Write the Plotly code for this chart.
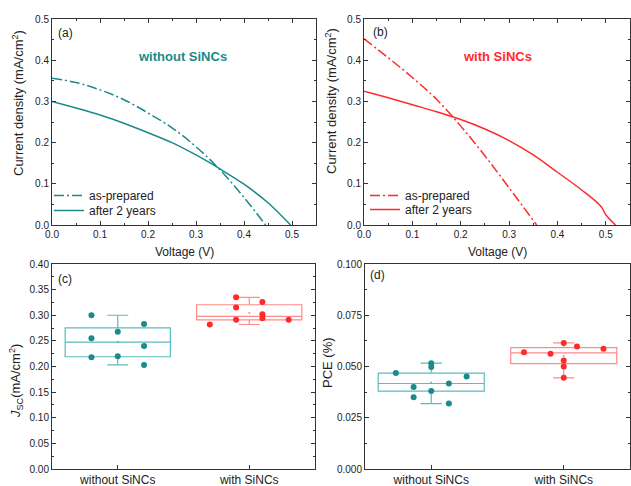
import numpy as np
import plotly.graph_objects as go

W, H = 631, 486

# ---------------- data ----------------
# (a) without SiNCs
a_prep_v = [0, 0.05, 0.1, 0.15, 0.2, 0.25, 0.3, 0.35, 0.4, 0.445]
a_prep_j = [0.356, 0.346, 0.328, 0.304, 0.272, 0.236, 0.19, 0.134, 0.067, 0.0]
a_aged_v = [0, 0.05, 0.1, 0.15, 0.2, 0.25, 0.3, 0.35, 0.4, 0.45, 0.497]
a_aged_j = [0.300, 0.284, 0.267, 0.247, 0.224, 0.200, 0.170, 0.136, 0.099, 0.054, 0.0]
# (b) with SiNCs
b_prep_v = [0, 0.05, 0.1, 0.15, 0.2, 0.25, 0.3, 0.357]
b_prep_j = [0.452, 0.406, 0.358, 0.305, 0.240, 0.168, 0.090, 0.0]
b_aged_v = [0, 0.05, 0.1, 0.15, 0.2, 0.25, 0.3, 0.35, 0.4, 0.45, 0.49, 0.5, 0.52]
b_aged_j = [0.325, 0.309, 0.292, 0.275, 0.256, 0.233, 0.205, 0.170, 0.128, 0.085, 0.045, 0.025, 0.0]

categories = ["without SiNCs", "with SiNCs"]
# (c) Jsc
jsc_without = [0.300, 0.255, 0.218, 0.268, 0.220, 0.283, 0.240, 0.203]
jsc_with = [0.282, 0.335, 0.315, 0.291, 0.326, 0.302, 0.294, 0.291]
# (d) PCE
pce_without = [0.0468, 0.0400, 0.0350, 0.0516, 0.0497, 0.0380, 0.0417, 0.0319, 0.0451]
pce_with = [0.0570, 0.0562, 0.0615, 0.0529, 0.0500, 0.0445, 0.0597, 0.0587]

# horizontal spread of the data points inside each category (category units)
jsc_without_off = [-0.2, -0.2, -0.2, 0, 0, 0.2, 0.2, 0.2]
jsc_with_off = [-0.3, -0.1, -0.1, -0.1, 0.1, 0.1, 0.1, 0.3]
pce_without_off = [-0.267, -0.133, -0.133, 0, 0, 0, 0.133, 0.133, 0.267]
pce_with_off = [-0.3, -0.1, 0, 0, 0, 0, 0.1, 0.3]

TEAL = "#1a8a8a"
TEAL_BOX = "#5cbcbc"
RED = "#ff2a2a"
RED_BOX = "#ff8a8a"
AX = "#333333"
FONT = "Liberation Sans, Arial, sans-serif"
DASHDOT = "10px,3px,2px,3px"

fig = go.Figure()

# ---- panel (a)
fig.add_trace(go.Scatter(x=a_prep_v, y=a_prep_j, mode="lines", name="as-prepared",
                         line=dict(color=TEAL, width=1.5, dash=DASHDOT, shape="spline"),
                         xaxis="x", yaxis="y", legend="legend"))
fig.add_trace(go.Scatter(x=a_aged_v, y=a_aged_j, mode="lines", name="after 2 years",
                         line=dict(color=TEAL, width=1.5, shape="spline"),
                         xaxis="x", yaxis="y", legend="legend2"))
# ---- panel (b)
fig.add_trace(go.Scatter(x=b_prep_v, y=b_prep_j, mode="lines", name="as-prepared",
                         line=dict(color=RED, width=1.5, dash=DASHDOT, shape="spline"),
                         xaxis="x2", yaxis="y2", legend="legend3"))
fig.add_trace(go.Scatter(x=b_aged_v, y=b_aged_j, mode="lines", name="after 2 years",
                         line=dict(color=RED, width=1.5, shape="spline"),
                         xaxis="x2", yaxis="y2", legend="legend4"))


def add_box(vals, offs, pos, color_box, color_pt, xa, ya):
    fig.add_trace(go.Box(y=vals, x0=pos, width=0.8, whiskerwidth=0.2,
                         boxpoints=False, quartilemethod="inclusive",
                         line=dict(color=color_box, width=1.2),
                         fillcolor="rgba(255,255,255,0)",
                         xaxis=xa, yaxis=ya, showlegend=False, hoverinfo="y"))
    fig.add_trace(go.Scatter(x=[pos + o for o in offs], y=vals, mode="markers",
                             marker=dict(color=color_pt, size=6, symbol="circle"),
                             xaxis=xa, yaxis=ya, showlegend=False))
    fig.add_trace(go.Scatter(x=[pos], y=[float(np.mean(vals))], mode="markers",
                             marker=dict(color=color_box, size=2),
                             xaxis=xa, yaxis=ya, showlegend=False))


add_box(jsc_without, jsc_without_off, 0, TEAL_BOX, TEAL, "x3", "y3")
add_box(jsc_with, jsc_with_off, 1, RED_BOX, RED, "x3", "y3")
add_box(pce_without, pce_without_off, 0, TEAL_BOX, TEAL, "x4", "y4")
add_box(pce_with, pce_with_off, 1, RED_BOX, RED, "x4", "y4")


def px(x):
    return x / W


def py(y):
    return 1 - y / H


common = dict(showline=True, linecolor=AX, linewidth=1, ticks="inside", ticklen=4,
              tickcolor=AX, showgrid=False, zeroline=False, automargin=False,
              tickfont=dict(size=10, color="#222", family=FONT))
minor = dict(ticks="inside", ticklen=2, tickcolor=AX, showgrid=False)
catfont = dict(size=12, color="#222", family=FONT)

top_y = [py(225), py(19)]
bot_y = [py(469), py(264)]


def leg(x, y):
    return dict(x=px(x), y=py(y), xanchor="left", yanchor="top",
                bgcolor="rgba(0,0,0,0)", font=dict(size=12, family=FONT, color="#222"))


fig.update_layout(
    width=W, height=H, margin=dict(l=0, r=0, t=0, b=0, autoexpand=False),
    paper_bgcolor="white", plot_bgcolor="white",
    font=dict(family=FONT, color="#222"),
    xaxis=dict(**common, domain=[px(52), px(316)], range=[0, 0.55], dtick=0.1,
               tickformat=".1f", mirror="ticks", minor=dict(**minor, dtick=0.05), anchor="y"),
    yaxis=dict(**common, domain=top_y, range=[0, 0.5], dtick=0.1, tickformat=".1f",
               mirror="ticks", minor=dict(**minor, dtick=0.05), anchor="x"),
    xaxis2=dict(**common, domain=[px(364), px(630)], range=[0, 0.55], dtick=0.1,
                tickformat=".1f", mirror="ticks", minor=dict(**minor, dtick=0.05), anchor="y2"),
    yaxis2=dict(**common, domain=top_y, range=[0, 0.5], dtick=0.1, tickformat=".1f",
                mirror="ticks", minor=dict(**minor, dtick=0.05), anchor="x2"),
    xaxis3=dict(**{**common, "tickfont": catfont}, domain=[px(52), px(315)], range=[-0.5, 1.5],
                tickvals=[0, 1], ticktext=categories, mirror=True, anchor="y3"),
    yaxis3=dict(**common, domain=bot_y, range=[0, 0.4], dtick=0.05, tickformat=".2f",
                mirror="ticks", minor=dict(**minor, dtick=0.025), anchor="x3"),
    xaxis4=dict(**{**common, "tickfont": catfont}, domain=[px(365), px(630)], range=[-0.5, 1.5],
                tickvals=[0, 1], ticktext=categories, mirror=True, anchor="y4"),
    yaxis4=dict(**common, domain=bot_y, range=[0, 0.1], dtick=0.025, tickformat=".3f",
                mirror="ticks", minor=dict(**minor, dtick=0.0125), anchor="x4"),
    legend=leg(49, 181),
    legend2=leg(49, 196),
    legend3=leg(365, 181),
    legend4=leg(365, 195),
)

ann = []


def text(x, y, t, size=12, color="#222", bold=False, angle=0, xanchor="center"):
    ann.append(dict(x=px(x), y=py(y), xref="paper", yref="paper", text=f"<b>{t}</b>" if bold else t,
                    showarrow=False, font=dict(size=size, color=color, family=FONT),
                    textangle=angle, xanchor=xanchor, yanchor="middle"))


text(56, 33, "(a)", 12, xanchor="left")
text(371, 32, "(b)", 12, xanchor="left")
text(56, 279, "(c)", 12, xanchor="left")
text(368, 275, "(d)", 12, xanchor="left")
text(183, 56, "without SiNCs", 13, TEAL, bold=True)
text(497, 56, "with SiNCs", 13, RED, bold=True)
text(184, 252, "Voltage (V)", 12)
text(497, 252, "Voltage (V)", 12)
text(18, 103, "Current density (mA/cm<sup>2</sup>)", 13, angle=-90)
text(331, 101, "Current density (mA/cm<sup>2</sup>)", 13, angle=-90)
text(16, 381, "<i>J</i><sub>SC</sub>(mA/cm<sup>2</sup>)", 13, angle=-90)
text(327, 363, "PCE (%)", 13, angle=-90)
fig.update_layout(annotations=ann)

fig.write_html("out.html", config={"displayModeBar": False},
               post_script="document.body.style.margin='0';")
